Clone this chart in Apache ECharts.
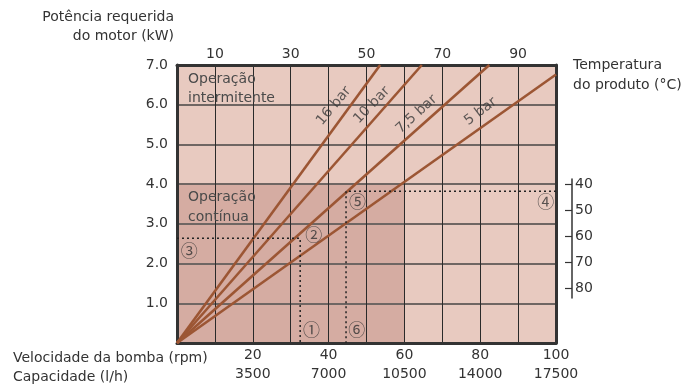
<!DOCTYPE html>
<html>
<head>
<meta charset="utf-8">
<script src="https://cdn.jsdelivr.net/npm/echarts@6/dist/echarts.min.js"></script>
<style>html,body{margin:0;padding:0;background:#fff}#c{width:693px;height:384px}</style>
</head>
<body>
<div id="c"></div>
<script>
// ---- data ----
const rpmTicks = [20, 40, 60, 80, 100];
const capacityTicks = ['3500', '7000', '10500', '14000', '17500'];
const topTicks = [10, 30, 50, 70, 90];
const tempTicks = [40, 50, 60, 70, 80];
const pressureNames = ['16 bar', '10 bar', '7,5 bar', '5 bar'];
const pressureEndRpm = [53.6, 64.6, 82.4, 100];
const pressureEndKw = [7, 7, 7, 6.76];
const pressureLabelRpm = [41.4, 51.4, 63.2, 80.1];
const pressureLabelKw = [5.97, 5.99, 5.76, 5.83];
const pressureLabelAngle = [50, 46, 42, 37];
const continuousRpm = [0, 60];
const continuousKw = [0, 4];
const guideARpm = 32.5, guideAKw = 2.64;
const guideBRpm = 44.6, guideBKw = 3.82;
const markerNames = ['①', '②', '③', '④', '⑤', '⑥'];
const markerRpm = [35.5, 36.1, 3.2, 97.3, 47.6, 47.4];
const markerKw = [0.34, 2.73, 2.34, 3.56, 3.56, 0.34];

const FONT = 'DejaVu Sans';
const TXT = '#333';
const LINE = '#9c5634';

const chart = echarts.init(document.getElementById('c'), null, {renderer: 'canvas'});

const series = [];
// continuous operation area
series.push({
  type: 'line', xAxisIndex: 0, yAxisIndex: 0, data: [], z: 1, silent: true,
  markArea: {
    silent: true,
    itemStyle: {color: '#d5aca2'},
    data: [[{xAxis: continuousRpm[0], yAxis: continuousKw[0]}, {xAxis: continuousRpm[1], yAxis: continuousKw[1]}]]
  }
});
// pressure lines
pressureNames.forEach((n, i) => {
  series.push({
    type: 'line', name: n, xAxisIndex: 0, yAxisIndex: 0, z: 6, symbol: 'none', silent: true,
    lineStyle: {color: LINE, width: 2.6},
    data: [[0, 0], [pressureEndRpm[i], pressureEndKw[i]]]
  });
  series.push({
    type: 'scatter', xAxisIndex: 0, yAxisIndex: 0, z: 7, symbolSize: 0, silent: true,
    data: [[pressureLabelRpm[i], pressureLabelKw[i]]],
    label: {show: true, position: 'inside', rotate: pressureLabelAngle[i], formatter: n,
      fontFamily: FONT, fontSize: 14, color: '#3a3a3a'}
  });
});
// dotted guides
series.push({
  type: 'line', xAxisIndex: 0, yAxisIndex: 0, z: 6, symbol: 'none', silent: true,
  lineStyle: {color: '#222', width: 1.5, type: [2, 3]},
  data: [[0, guideAKw], [guideARpm, guideAKw], [guideARpm, 0]]
});
series.push({
  type: 'line', xAxisIndex: 0, yAxisIndex: 0, z: 6, symbol: 'none', silent: true,
  lineStyle: {color: '#222', width: 1.5, type: [2, 3]},
  data: [[100, guideBKw], [guideBRpm, guideBKw], [guideBRpm, 0]]
});
// circled markers
series.push({
  type: 'scatter', xAxisIndex: 0, yAxisIndex: 0, z: 7, symbolSize: 0, silent: true,
  data: markerNames.map((m, i) => ({value: [markerRpm[i], markerKw[i]], name: m})),
  label: {show: true, position: 'inside', formatter: p => p.name, fontFamily: 'Noto Sans CJK SC', fontSize: 17, color: '#333'}
});

const option = {
  animation: false,
  backgroundColor: '#fff',
  grid: [
    {left: 177, top: 65, width: 379, height: 281, show: true, backgroundColor: '#e8cac0', borderWidth: 0},
    {left: 562, top: 179, width: 10, height: 119, show: false}
  ],
  xAxis: [
    {type: 'value', gridIndex: 0, min: 0, max: 100, interval: 10, position: 'bottom', z: 4,
      axisLine: {show: true, onZero: false, lineStyle: {color: '#333', width: 3}},
      axisTick: {show: false},
      splitLine: {show: true, lineStyle: {color: '#2a2a2a', width: 1}},
      axisLabel: {margin: 3, fontFamily: FONT, fontSize: 14, color: TXT, lineHeight: 19,
        formatter: v => { const k = rpmTicks.indexOf(v); return k < 0 ? '' : rpmTicks[k] + '\n' + capacityTicks[k]; }}
    },
    {type: 'value', gridIndex: 0, min: 0, max: 100, interval: 10, position: 'top', z: 4,
      axisLine: {show: true, onZero: false, lineStyle: {color: '#333', width: 3}},
      axisTick: {show: false}, splitLine: {show: false},
      axisLabel: {margin: 4, fontFamily: FONT, fontSize: 14, color: TXT,
        formatter: v => topTicks.indexOf(v) < 0 ? '' : String(v)}
    },
    {type: 'value', gridIndex: 1, show: false, min: 0, max: 1}
  ],
  yAxis: [
    {type: 'value', gridIndex: 0, min: 0, max: 7, interval: 1, position: 'left', z: 4,
      axisLine: {show: true, onZero: false, lineStyle: {color: '#333', width: 3}},
      axisTick: {show: false},
      splitLine: {show: true, lineStyle: {color: '#6f6663', width: 2}},
      axisLabel: {margin: 9, fontFamily: FONT, fontSize: 14, color: TXT,
        formatter: v => v === 0 ? '' : v.toFixed(1)}
    },
    {type: 'value', gridIndex: 0, min: 0, max: 7, position: 'right', z: 4,
      axisLine: {show: true, onZero: false, lineStyle: {color: '#333', width: 3}},
      axisTick: {show: false}, axisLabel: {show: false}, splitLine: {show: false}
    },
    {type: 'value', gridIndex: 1, min: 38.08, max: 83.9, inverse: true, position: 'right',
      axisLine: {show: true, onZero: false, lineStyle: {color: '#333', width: 1.5}},
      axisTick: {show: true, inside: true, length: 7, customValues: tempTicks, lineStyle: {color: '#333', width: 1.2}},
      axisLabel: {margin: 3, fontFamily: FONT, fontSize: 14, color: TXT, customValues: tempTicks},
      splitLine: {show: false}
    }
  ],
  graphic: [
    {type: 'text', x: 174, y: 17, style: {text: 'Potência requerida', fontFamily: FONT, fontSize: 14, fill: TXT, textAlign: 'right', textVerticalAlign: 'middle'}},
    {type: 'text', x: 174, y: 36, style: {text: 'do motor (kW)', fontFamily: FONT, fontSize: 14, fill: TXT, textAlign: 'right', textVerticalAlign: 'middle'}},
    {type: 'text', x: 573, y: 65, style: {text: 'Temperatura', fontFamily: FONT, fontSize: 14, fill: TXT, textAlign: 'left', textVerticalAlign: 'middle'}},
    {type: 'text', x: 573, y: 85, style: {text: 'do produto (°C)', fontFamily: FONT, fontSize: 14, fill: TXT, textAlign: 'left', textVerticalAlign: 'middle'}},
    {type: 'text', x: 13, y: 358, style: {text: 'Velocidade da bomba (rpm)', fontFamily: FONT, fontSize: 14, fill: TXT, textAlign: 'left', textVerticalAlign: 'middle'}},
    {type: 'text', x: 13, y: 377, style: {text: 'Capacidade (l/h)', fontFamily: FONT, fontSize: 14, fill: TXT, textAlign: 'left', textVerticalAlign: 'middle'}},
    {type: 'text', x: 188, y: 79, z: 10, style: {text: 'Operação', fontFamily: FONT, fontSize: 14, fill: '#4a4a4a', textAlign: 'left', textVerticalAlign: 'middle'}},
    {type: 'text', x: 188, y: 98, z: 10, style: {text: 'intermitente', fontFamily: FONT, fontSize: 14, fill: '#4a4a4a', textAlign: 'left', textVerticalAlign: 'middle'}},
    {type: 'text', x: 188, y: 197, z: 10, style: {text: 'Operação', fontFamily: FONT, fontSize: 14, fill: '#4a4a4a', textAlign: 'left', textVerticalAlign: 'middle'}},
    {type: 'text', x: 188, y: 217, z: 10, style: {text: 'contínua', fontFamily: FONT, fontSize: 14, fill: '#4a4a4a', textAlign: 'left', textVerticalAlign: 'middle'}}
  ],
  series: series
};
chart.setOption(option);
</script>
</body>
</html>
